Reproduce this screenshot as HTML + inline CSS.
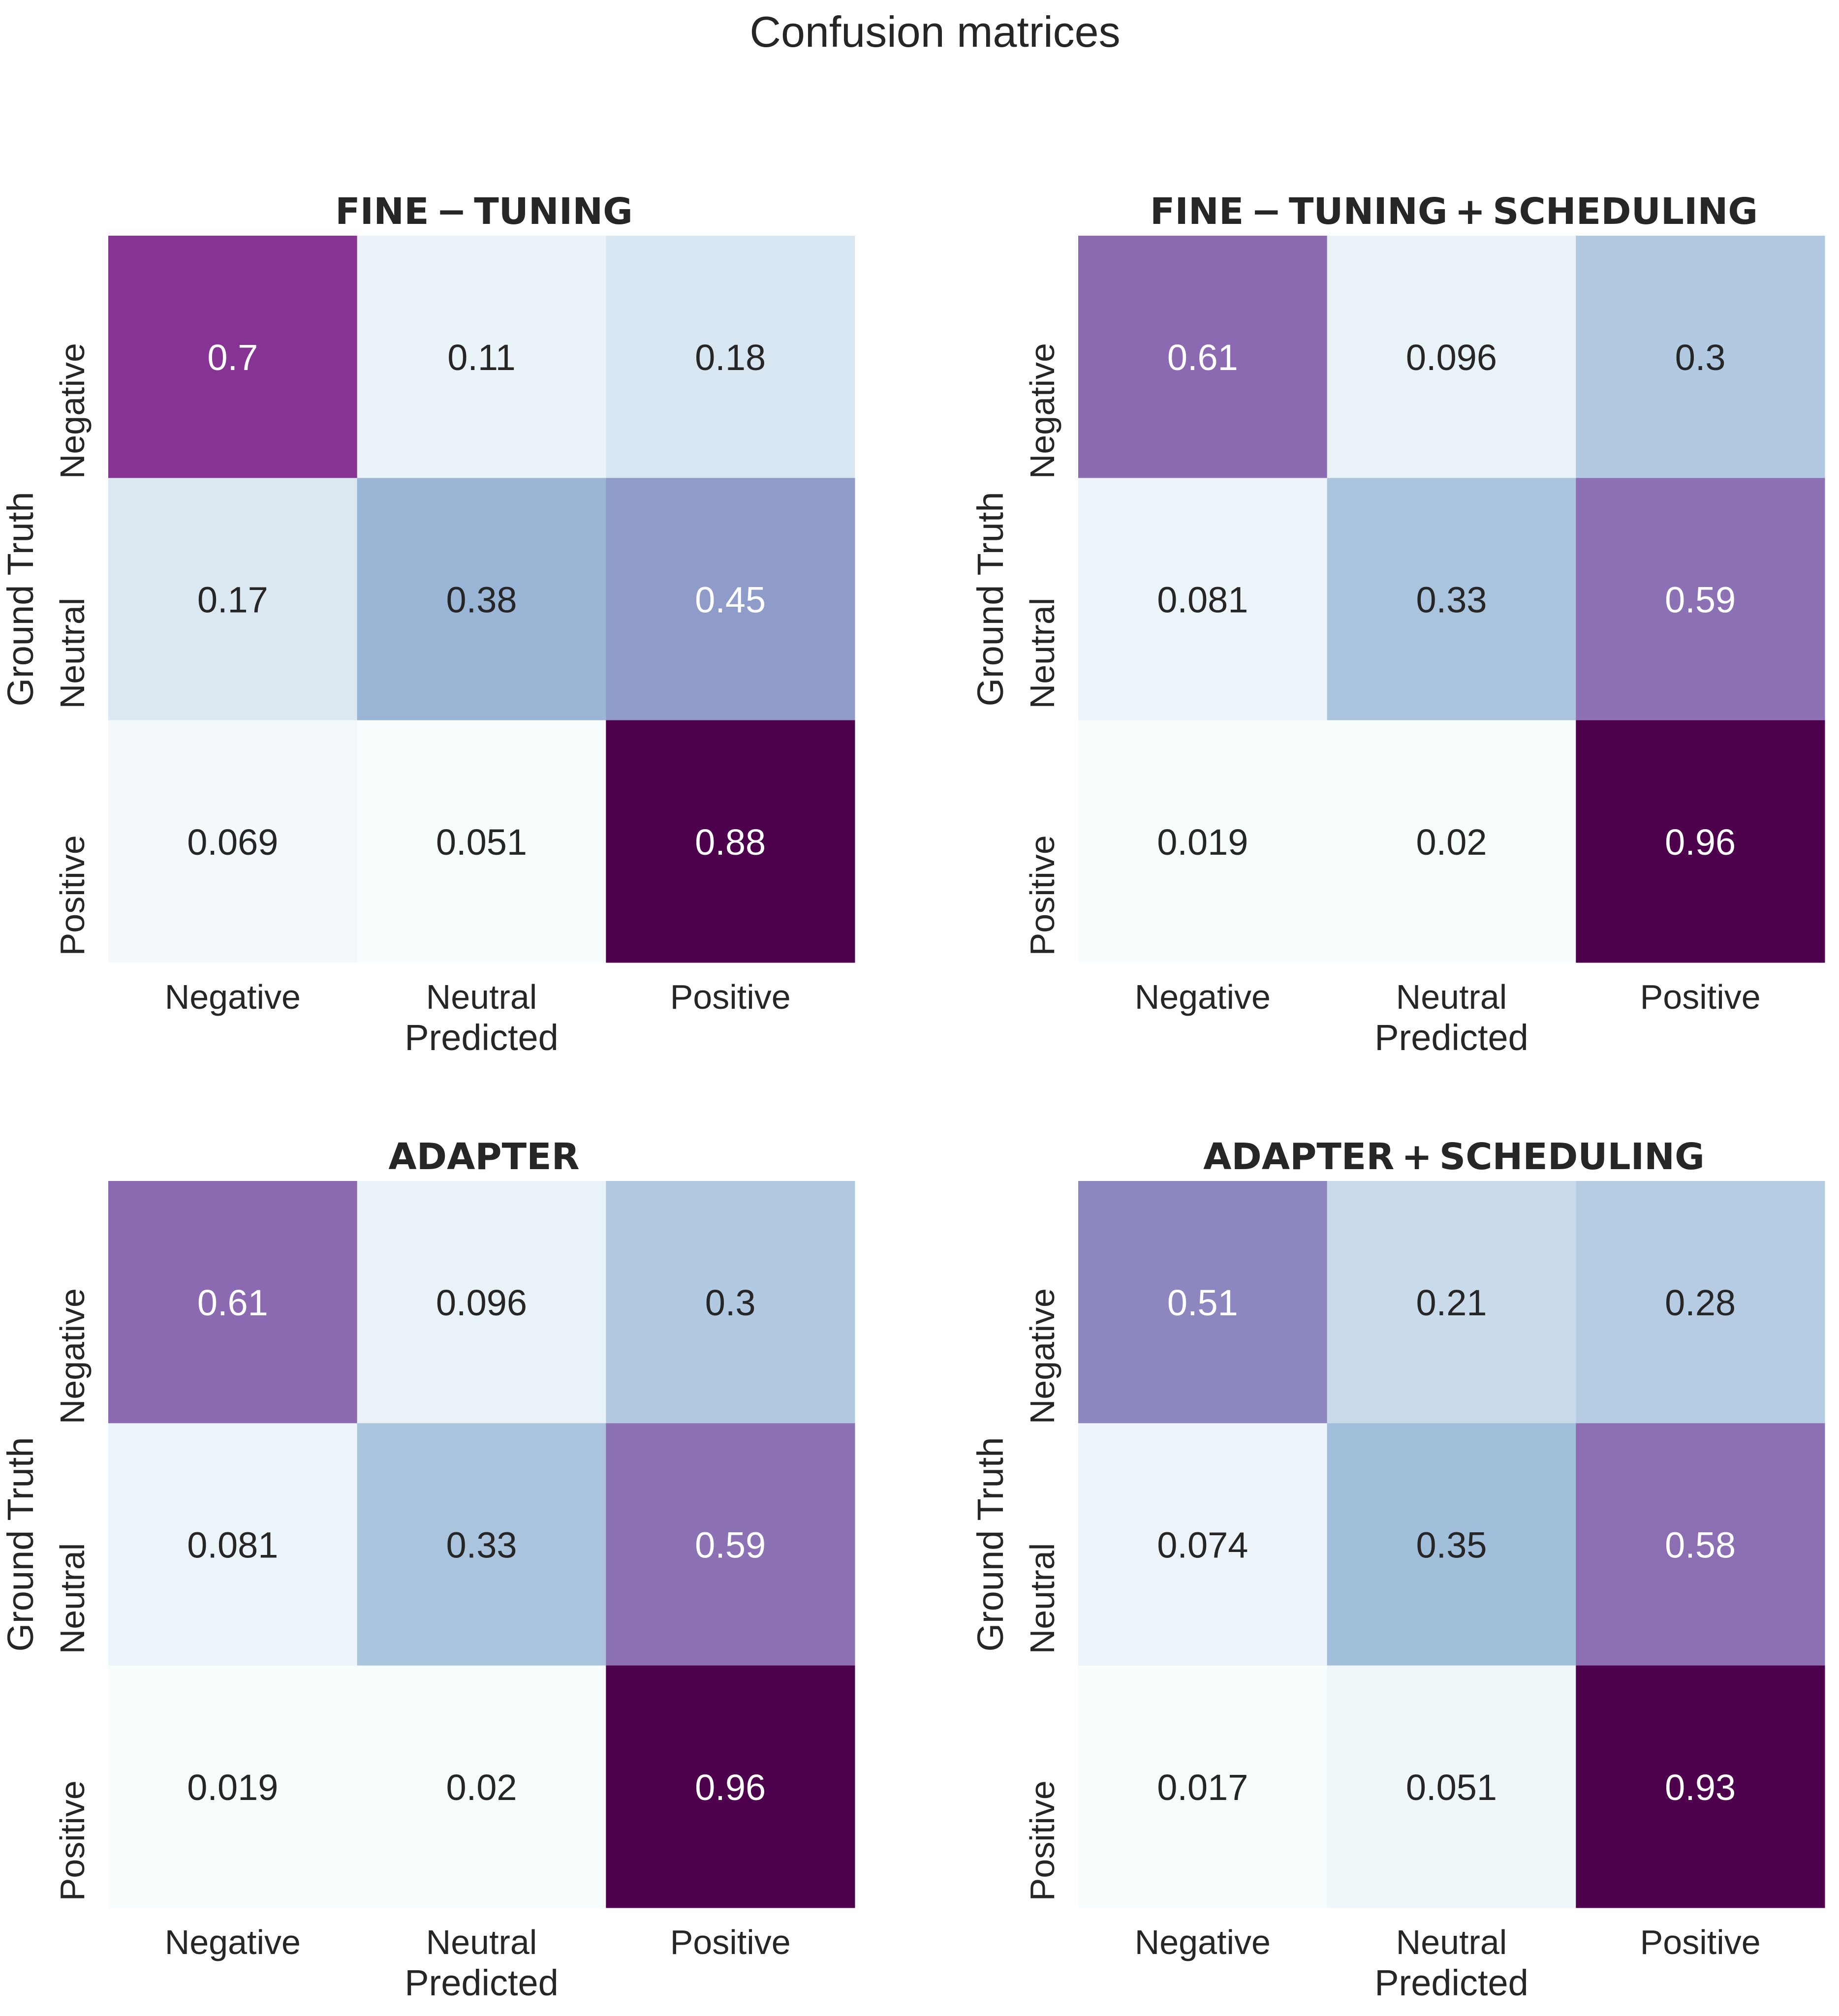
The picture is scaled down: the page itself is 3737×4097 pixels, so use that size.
<!DOCTYPE html>
<html><head><meta charset="utf-8"><style>
html,body{margin:0;padding:0;background:#fff;}
svg{display:block;}
</style></head><body>
<svg id="fig" width="3737" height="4097" xmlns="http://www.w3.org/2000/svg">
<rect width="3737" height="4097" fill="#ffffff"/>
<text x="1900" y="95" text-anchor="middle" font-family="Liberation Sans, sans-serif" font-size="88" fill="#262626">Confusion matrices</text>
</svg>
<script>
const classLabels = ["Negative","Neutral","Positive"];
const panelTitles = ["FINE\u2009\u2212\u2009TUNING","FINE\u2009\u2212\u2009TUNING\u2009+\u2009SCHEDULING","ADAPTER","ADAPTER\u2009+\u2009SCHEDULING"];
const valsFineTuning = [[0.7,0.11,0.18],[0.17,0.38,0.45],[0.069,0.051,0.88]];
const valsFineTuningSched = [[0.61,0.096,0.3],[0.081,0.33,0.59],[0.019,0.02,0.96]];
const valsAdapter = [[0.61,0.096,0.3],[0.081,0.33,0.59],[0.019,0.02,0.96]];
const valsAdapterSched = [[0.51,0.21,0.28],[0.074,0.35,0.58],[0.017,0.051,0.93]];
const allVals = [valsFineTuning, valsFineTuningSched, valsAdapter, valsAdapterSched];

const BUPU = ["#f7fcfd","#e0ecf4","#bfd3e6","#9ebcda","#8c96c6","#8c6bb1","#88419d","#810f7c","#4d004b"];
function hex2rgb(h){return [parseInt(h.substr(1,2),16),parseInt(h.substr(3,2),16),parseInt(h.substr(5,2),16)];}
function cmap(t){
  t=Math.max(0,Math.min(1,t));
  const p=t*(BUPU.length-1), i=Math.min(Math.floor(p),BUPU.length-2), f=p-i;
  const a=hex2rgb(BUPU[i]), b=hex2rgb(BUPU[i+1]);
  return a.map((v,k)=>Math.round(v+(b[k]-v)*f));
}
function lum(rgb){
  const c=rgb.map(v=>{v/=255;return v<=0.03928?v/12.92:Math.pow((v+0.055)/1.055,2.4);});
  return 0.2126*c[0]+0.7152*c[1]+0.0722*c[2];
}
const NS="http://www.w3.org/2000/svg";
const svg=document.getElementById('fig');
function mk(tag,attrs,parent){const e=document.createElementNS(NS,tag);for(const k in attrs)e.setAttribute(k,attrs[k]);(parent||svg).appendChild(e);return e;}

const panelX=[220,2191], panelY=[479,2400], W=1517, H=1477;
const FONT="Liberation Sans, sans-serif";
allVals.forEach((vals,pi)=>{
  const x0=panelX[pi%2], y0=panelY[Math.floor(pi/2)];
  const g=mk('g',{});
  
  
  const flat=vals.flat(); const vmin=Math.min(...flat), vmax=Math.max(...flat);
  const cw=W/classLabels.length, ch=H/classLabels.length;
  const xs=j=>x0+j*cw, ys=i=>y0+i*ch;
  vals.forEach((row,i)=>row.forEach((v,j)=>{
    const rgb=cmap((v-vmin)/(vmax-vmin));
    const r=mk('rect',{x:xs(j),y:ys(i),width:cw+0.5,height:ch+0.5,fill:'rgb('+rgb.join(',')+')'},g);
    
    
    const t=mk('text',{x:xs(j)+cw/2,y:ys(i)+ch/2+27,'text-anchor':'middle','font-family':FONT,'font-size':74,fill:lum(rgb)>0.408?'#262626':'#ffffff'},g);
    
    
    t.textContent=String(v);
  }));
  classLabels.forEach((lab,j)=>{
    const t=mk('text',{x:xs(j)+cw/2,y:y0+H+94,'text-anchor':'middle','font-family':FONT,'font-size':70,fill:'#262626'},g);
    
    
    t.textContent=lab;
    const cy=ys(j)+ch/2+110, cx=x0-49;
    const u=mk('text',{x:cx,y:cy,transform:'rotate(-90 '+cx+' '+cy+')','text-anchor':'middle','font-family':FONT,'font-size':70,fill:'#262626'},g);
    
    
    u.textContent=lab;
  });
  const xl=mk('text',{x:x0+W/2,y:y0+H+178,'text-anchor':'middle','font-family':FONT,'font-size':74,fill:'#262626'},g);
  
  
  xl.textContent='Predicted';
  const lx=x0-153, ly=y0+H/2;
  const yl=mk('text',{x:lx,y:ly,transform:'rotate(-90 '+lx+' '+ly+')','text-anchor':'middle','font-family':FONT,'font-size':74,fill:'#262626'},g);
  
  
  yl.textContent='Ground Truth';
  const tt=mk('text',{x:x0+W/2+5,y:y0-24,'text-anchor':'middle','font-family':'DejaVu Sans, sans-serif','font-weight':'bold','font-size':74,fill:'#262626'},g);
  
  
  tt.textContent=panelTitles[pi];
});
</script>
</body></html>
